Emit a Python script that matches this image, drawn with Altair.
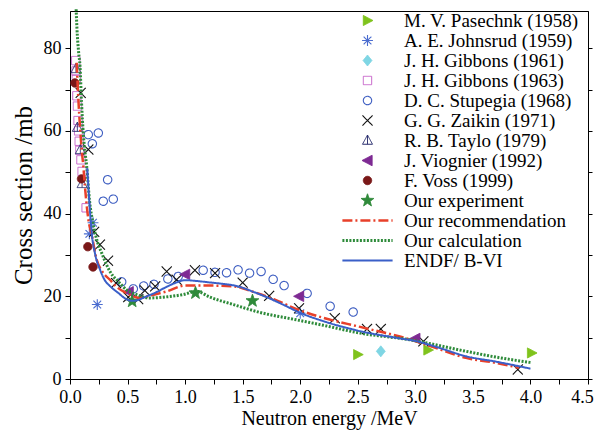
import math
import altair as alt
import pandas as pd

# ---------------- data ----------------
series = [
    "M. V. Pasechnk (1958)", "A. E. Johnsrud (1959)", "J. H. Gibbons (1961)",
    "J. H. Gibbons (1963)", "D. C. Stupegia (1968)", "G. G. Zaikin (1971)",
    "R. B. Taylo (1979)", "J. Viognier (1992)", "F. Voss (1999)",
    "Our experiment", "Our recommendation", "Our calculation", "ENDF/ B-VI",
]

pas_e = [2.50, 3.11, 4.01]
pas_s = [5.9, 7.0, 6.3]
joh_e = [0.168, 0.200, 0.237, 2.00]
joh_s = [35.1, 37.8, 18.0, 15.9]
gib61_e = [2.70]
gib61_s = [6.7]
gib63_e = [0.050, 0.052, 0.055, 0.060, 0.065, 0.070, 0.075, 0.080, 0.085, 0.095, 0.105, 0.140]
gib63_s = [77.0, 74.5, 72.5, 68.5, 66.0, 62.5, 60.0, 57.5, 55.3, 53.0, 50.2, 41.4]
stu_e = [0.159, 0.194, 0.246, 0.289, 0.327, 0.376, 0.449, 0.55, 0.64, 0.73, 0.85, 0.94,
         1.157, 1.26, 1.36, 1.46, 1.56, 1.66, 1.765, 1.86, 2.06, 2.26, 2.46]
stu_s = [59.1, 56.9, 59.5, 43.0, 48.2, 43.5, 23.5, 21.8, 22.5, 22.9, 24.2, 24.8,
         26.3, 25.8, 25.7, 26.4, 25.6, 26.0, 24.1, 22.6, 20.7, 17.6, 16.2]
zai_e = [0.093, 0.159, 0.21, 0.26, 0.33, 0.40, 0.506, 0.593, 0.65, 0.74, 0.84, 0.926,
         1.085, 1.26, 1.50, 1.73, 1.99, 2.30, 2.58, 2.70, 3.07, 3.89]
zai_s = [69.2, 55.5, 35.6, 32.5, 28.6, 23.2, 19.8, 19.3, 21.4, 22.4, 26.0, 24.0,
         26.3, 25.6, 23.3, 20.1, 17.1, 14.7, 12.1, 12.1, 9.1, 2.3]
tay_e = [0.052, 0.064, 0.090, 0.105]
tay_s = [75.0, 60.8, 55.4, 47.2]
vio_e = [0.51, 1.00, 1.99, 3.00]
vio_s = [21.1, 25.3, 20.0, 9.8]
vos_e = [0.043, 0.100, 0.155, 0.200]
vos_s = [71.6, 48.4, 32.0, 27.1]
our_e = [0.54, 1.09, 1.585]
our_s = [18.8, 20.8, 18.9]

rec_e = [0.058, 0.072, 0.087, 0.100, 0.116, 0.130, 0.145, 0.160, 0.188, 0.230, 0.280, 0.347,
         0.400, 0.490, 0.610, 0.700, 0.840, 1.000, 1.200, 1.420, 1.600, 1.770, 1.970, 2.200,
         2.520, 2.950, 3.200, 3.440, 3.700, 3.900]
rec_s = [76.5, 68.0, 61.0, 56.0, 51.4, 46.5, 42.0, 38.5, 35.0, 29.0, 26.0, 24.0,
         22.4, 20.8, 19.6, 20.2, 21.2, 22.6, 22.6, 22.4, 21.0, 19.3, 16.9, 14.8,
         12.6, 9.6, 7.3, 5.1, 3.9, 2.7]
calc_e = [0.050, 0.060, 0.075, 0.087, 0.100, 0.115, 0.130, 0.145, 0.170, 0.200, 0.240, 0.275,
          0.320, 0.376, 0.405, 0.490, 0.580, 0.690, 0.850, 0.980, 1.100, 1.215, 1.420, 1.650,
          1.970, 2.200, 2.520, 2.950, 3.440, 3.700, 4.000]
calc_s = [92.0, 85.0, 79.0, 75.6, 67.0, 59.5, 55.0, 51.4, 43.0, 37.7, 33.0, 30.5,
          27.5, 24.8, 24.0, 21.6, 20.4, 19.6, 19.9, 20.4, 21.2, 19.8, 18.0, 16.1,
          14.3, 13.0, 11.1, 9.5, 6.7, 5.3, 4.0]
endf_e = [0.150, 0.170, 0.188, 0.220, 0.260, 0.300, 0.350, 0.420, 0.490, 0.550, 0.600, 0.650,
          0.750, 0.840, 0.920, 1.000, 1.100, 1.200, 1.300, 1.460, 1.600, 1.700, 1.850, 2.000,
          2.200, 2.500, 2.870, 3.000, 3.200, 3.440, 3.700, 4.000]
endf_s = [51.0, 42.0, 35.5, 30.0, 26.5, 24.0, 22.4, 20.8, 19.3, 18.9, 19.2, 19.8,
          21.0, 22.3, 23.3, 23.9, 23.7, 23.4, 23.1, 22.4, 21.0, 19.9, 18.0, 16.0,
          14.0, 11.7, 9.8, 9.2, 7.6, 5.5, 4.2, 2.5]

point_sets = [(pas_e, pas_s), (joh_e, joh_s), (gib61_e, gib61_s), (gib63_e, gib63_s),
              (stu_e, stu_s), (zai_e, zai_s), (tay_e, tay_s), (vio_e, vio_s),
              (vos_e, vos_s), (our_e, our_s)]
line_sets = [(rec_e, rec_s), (calc_e, calc_s), (endf_e, endf_s)]

rows = []
for name, (es, ss) in zip(series[:10], point_sets):
    rows += [{"series": name, "E": e, "S": s} for e, s in zip(es, ss)]
pts_df = pd.DataFrame(rows)
rows = []
for name, (es, ss) in zip(series[10:], line_sets):
    rows += [{"series": name, "E": e, "S": s, "order": i} for i, (e, s) in enumerate(zip(es, ss))]
lines_df = pd.DataFrame(rows)

# ---------------- styles ----------------
def star_path(ro=1.6, ri=0.65):
    p = []
    for k in range(10):
        r = ro if k % 2 == 0 else ri
        a = math.radians(-90 + 36 * k)
        p.append(f"{r * math.cos(a):.3f},{r * math.sin(a):.3f}")
    return "M" + "L".join(p) + "Z"

asterisk = ("M-1.3,0L1.3,0M0,-1.3L0,1.3M-0.92,-0.92L0.92,0.92M-0.92,0.92L0.92,-0.92")
line_sym = "M-6,0L6,0"
shapes = [
    "M-1.0,-1.2L1.3,0L-1.0,1.2Z",          # right triangle
    asterisk,
    "M0,-1.3L1.05,0L0,1.3L-1.05,0Z",        # diamond
    "M-1,-1L1,-1L1,1L-1,1Z",                # square
    "circle",
    "M-1.2,-1.2L1.2,1.2M-1.2,1.2L1.2,-1.2", # X
    "M0,-1.3L1.2,0.9L-1.2,0.9ZM0,-1.3L0,0.9",
    "M-1.3,0L1.1,-1.25L1.1,1.25Z",          # left triangle
    "circle",
    star_path(),
    line_sym, line_sym, line_sym,
]
strokes = ["#7fc31c", "#4a6ccf", "#7fd6e4", "#c663c9", "#3f5fc2", "#111111", "#2b2f6f",
           "#7e2a93", "#7a1818", "#2f8a3a", "#e8402a", "#2e8b3a", "#3a5fc8"]
fills = ["#7fc31c", "transparent", "#7fd6e4", "transparent", "transparent", "transparent",
         "transparent", "#7e2a93", "#7a1818", "#2f8a3a", "transparent", "transparent", "transparent"]
dashes = [[1, 0]] * 10 + [[10, 3, 2, 3], [2, 1.5], [1, 0]]
widths = [1, 1.1, 1, 1, 1.1, 1.1, 1, 1, 1, 1, 2.5, 3, 2]

FONT = "Liberation Serif"

def sc(rng):
    return alt.Scale(domain=series, range=rng)

xscale = alt.Scale(domain=[0, 4.5], nice=False, zero=False)
yscale = alt.Scale(domain=[0, 89], nice=False, zero=False)

x_axis = alt.Axis(
    values=[i * 0.25 for i in range(19)],
    labelExpr="(round(datum.value*100) % 50 == 0) ? format(datum.value, '.1f') : ''",
    labelOffset={"condition": {"test": "datum.value > 4.4", "value": -6}, "value": 0},
    title="Neutron energy /MeV", tickSize=5, labelPadding=4, titlePadding=2,
    labelOverlap=False, labelFlush=False, titleFontSize=20,
)
y_axis = alt.Axis(
    values=list(range(0, 90, 10)),
    labelExpr="(datum.value % 20 == 0) ? datum.label : ''",
    title="Cross section /mb", tickSize=5, labelPadding=4, titlePadding=7,
    labelOverlap=False, labelFlush=False, titleFontSize=25,
)

common_style = dict(
    shape=alt.Shape("series:N", scale=sc(shapes), title=None),
    fill=alt.Fill("series:N", scale=sc(fills), title=None),
    stroke=alt.Stroke("series:N", scale=sc(strokes), title=None),
    strokeDash=alt.StrokeDash("series:N", scale=sc(dashes), title=None),
    strokeWidth=alt.StrokeWidth("series:N", scale=alt.Scale(type="ordinal", domain=series, range=widths), title=None),
)

points = alt.Chart(pts_df).mark_point(size=70, opacity=1).encode(
    x=alt.X("E:Q", scale=xscale, axis=x_axis),
    y=alt.Y("S:Q", scale=yscale, axis=y_axis),
    **common_style,
)

lines = alt.Chart(lines_df).mark_line(interpolate="monotone", opacity=1).encode(
    x=alt.X("E:Q", scale=xscale, axis=None),
    y=alt.Y("S:Q", scale=yscale, axis=None),
    order="order:Q",
    stroke=common_style["stroke"],
    strokeDash=common_style["strokeDash"],
    strokeWidth=common_style["strokeWidth"],
)

right_axis = alt.Chart(lines_df).mark_line(opacity=0).encode(
    x=alt.X("E:Q", scale=xscale, axis=None),
    y=alt.Y("S:Q", scale=yscale, axis=alt.Axis(orient="right", values=list(range(0, 90, 10)),
                                              labels=False, title=None, tickSize=4)),
    detail="series:N",
)

chart = alt.layer(points, lines, right_axis).resolve_axis(
    x="independent", y="independent"
).properties(
    width=518, height=368,
    autosize=alt.AutoSizeParams(type="none"),
    padding={"left": 62, "top": 3, "right": 6, "bottom": 53},
).configure_view(
    stroke="black", strokeWidth=1
).configure_axis(
    labelFont=FONT, titleFont=FONT, labelFontSize=18, titleFontSize=20,
    titleFontWeight="normal", labelColor="black", titleColor="black",
    domainColor="black", tickColor="black", grid=False,
).configure_legend(
    orient="none", legendX=288, legendY=0, padding=0, rowPadding=0,
    labelFont=FONT, labelFontSize=19, labelColor="black", labelOffset=27,
    symbolSize=70, labelLimit=400,
)

chart.save("out.html", embed_options={"renderer": "svg", "actions": False})
